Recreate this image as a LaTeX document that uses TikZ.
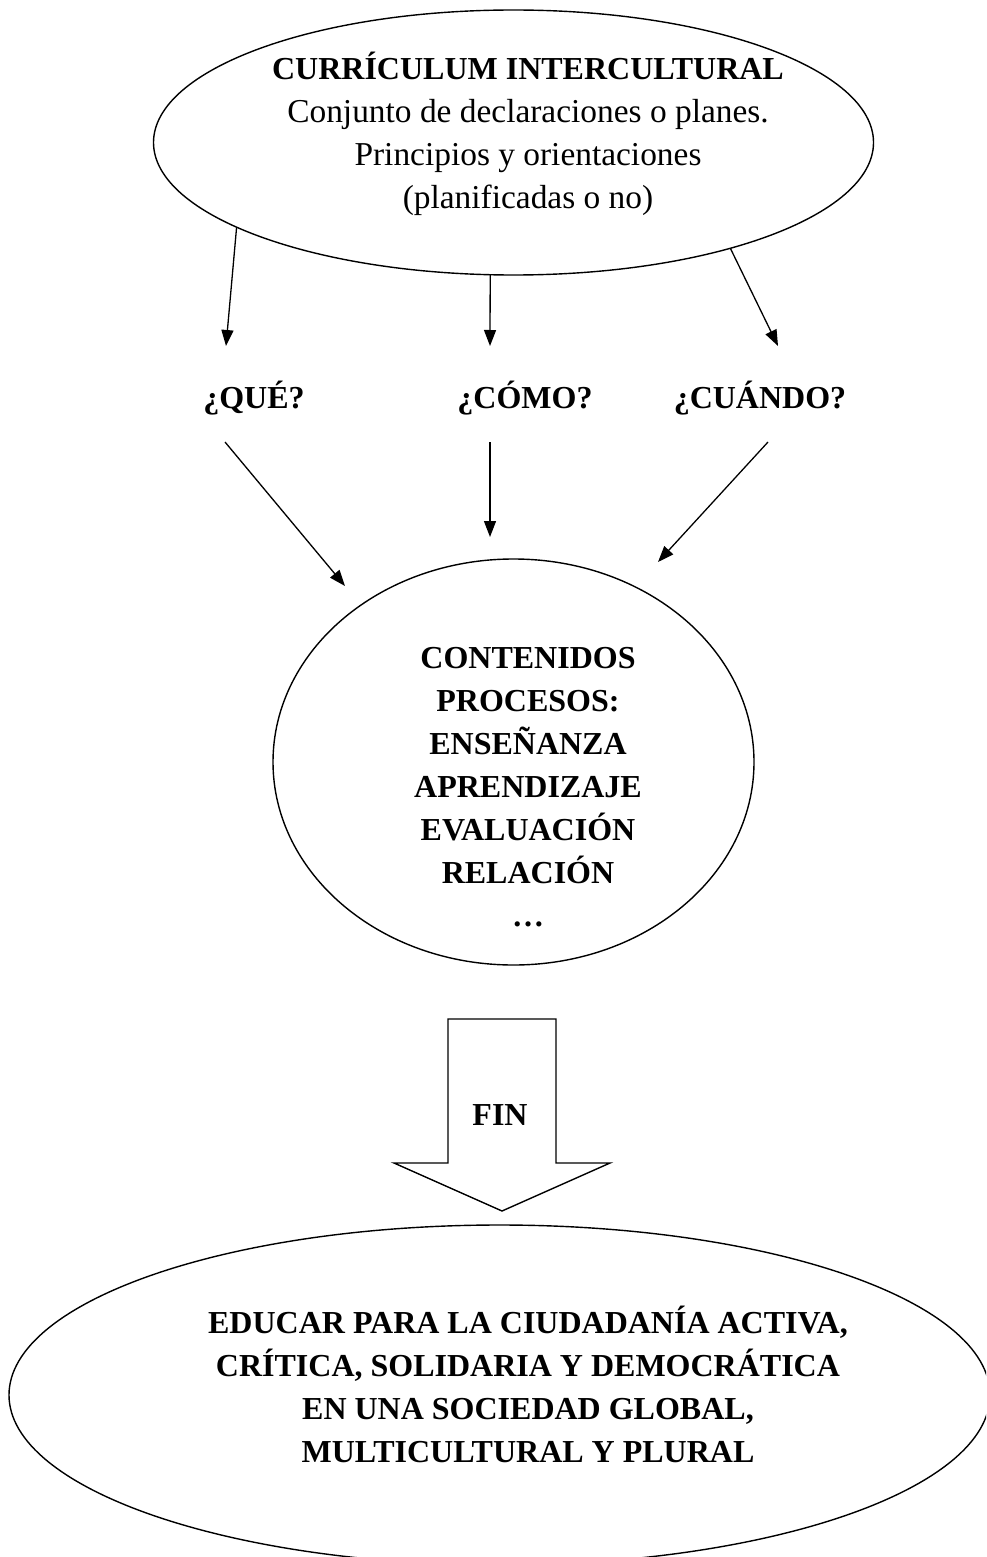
\documentclass[tikz,border=0pt]{standalone}
\usepackage{fontspec}
\setmainfont{Liberation Serif}
\usetikzlibrary{shapes.geometric,arrows.meta}

\begin{document}
\begin{tikzpicture}[
    x=0.5pt, y=-0.5pt,
    globo/.style={draw, ellipse, line width=0.7pt, inner sep=0pt, outer sep=0pt},
    negrita/.style={font=\fontsize{16}{20}\selectfont\bfseries, anchor=base, inner sep=0pt},
    normal/.style={font=\fontsize{16.7}{20}\selectfont, anchor=base, inner sep=0pt},
    flecha/.style={-{Triangle[length=8pt,width=6pt]}, line width=0.65pt}
]
\useasboundingbox (0,0) rectangle (986,1557);
\clip (0,0) rectangle (986,1557);

% ellipses
\node[globo, minimum width=360pt, minimum height=132.5pt] (curriculo) at (513.5,142.5) {};
\node[globo, minimum width=240.5pt, minimum height=203pt] (procesos) at (513.5,762) {};
\node[globo, minimum width=490.5pt, minimum height=170pt] (ciudadania) at (499.5,1395) {};

% top text
\node[negrita] (titulo) at (528,80) {CURRÍCULUM INTERCULTURAL};
\foreach \t [count=\i] in {Conjunto de declaraciones o planes., Principios y orientaciones, (planificadas o no)}
    \node[normal] (decl\i) at (528,{80+43*\i}) {\t};

% questions
\node[negrita] (que) at (254,408) {¿QUÉ?};
\node[negrita] (como) at (525,408) {¿CÓMO?};
\node[negrita] (cuando) at (760,408) {¿CUÁNDO?};

\coordinate (queArr) at (226,346);
\coordinate (comoArr) at (490,346);
\coordinate (cuandoArr) at (778,346);
\draw[flecha] (curriculo.197) -- (queArr);
\draw[flecha] (curriculo.260) -- (comoArr);
\draw[flecha] (curriculo.334) -- (cuandoArr);

\coordinate (queSal) at (225,442);
\coordinate (comoSal) at (490,442);
\coordinate (cuandoSal) at (768,442);
\coordinate (queLleg) at (345,586);
\coordinate (comoLleg) at (490,537);
\coordinate (cuandoLleg) at (658,562);
\draw[flecha] (queSal) -- (queLleg);
\draw[flecha] (comoSal) -- (comoLleg);
\draw[flecha] (cuandoSal) -- (cuandoLleg);

% middle text
\foreach \t [count=\i from 0] in {CONTENIDOS, PROCESOS:, ENSEÑANZA, APRENDIZAJE, EVALUACIÓN, RELACIÓN, …}
    \node[negrita] (proc\i) at (528,{668+43*\i}) {\t};

% big arrow
\draw[line width=0.7pt, line join=miter] (448,1019) -- (556,1019) -- (556,1163) -- (610,1163)
    -- (502,1211) -- (394,1163) -- (448,1163) -- cycle;
\node[negrita] (fin) at (500,1125) {FIN};

% bottom text
\foreach \t [count=\i from 0] in {{EDUCAR PARA LA CIUDADANÍA ACTIVA,}, {CRÍTICA, SOLIDARIA Y DEMOCRÁTICA}, {EN UNA SOCIEDAD GLOBAL,}, {MULTICULTURAL Y PLURAL}}
    \node[negrita] (meta\i) at (528,{1333+43*\i}) {\t};

\end{tikzpicture}
\end{document}
